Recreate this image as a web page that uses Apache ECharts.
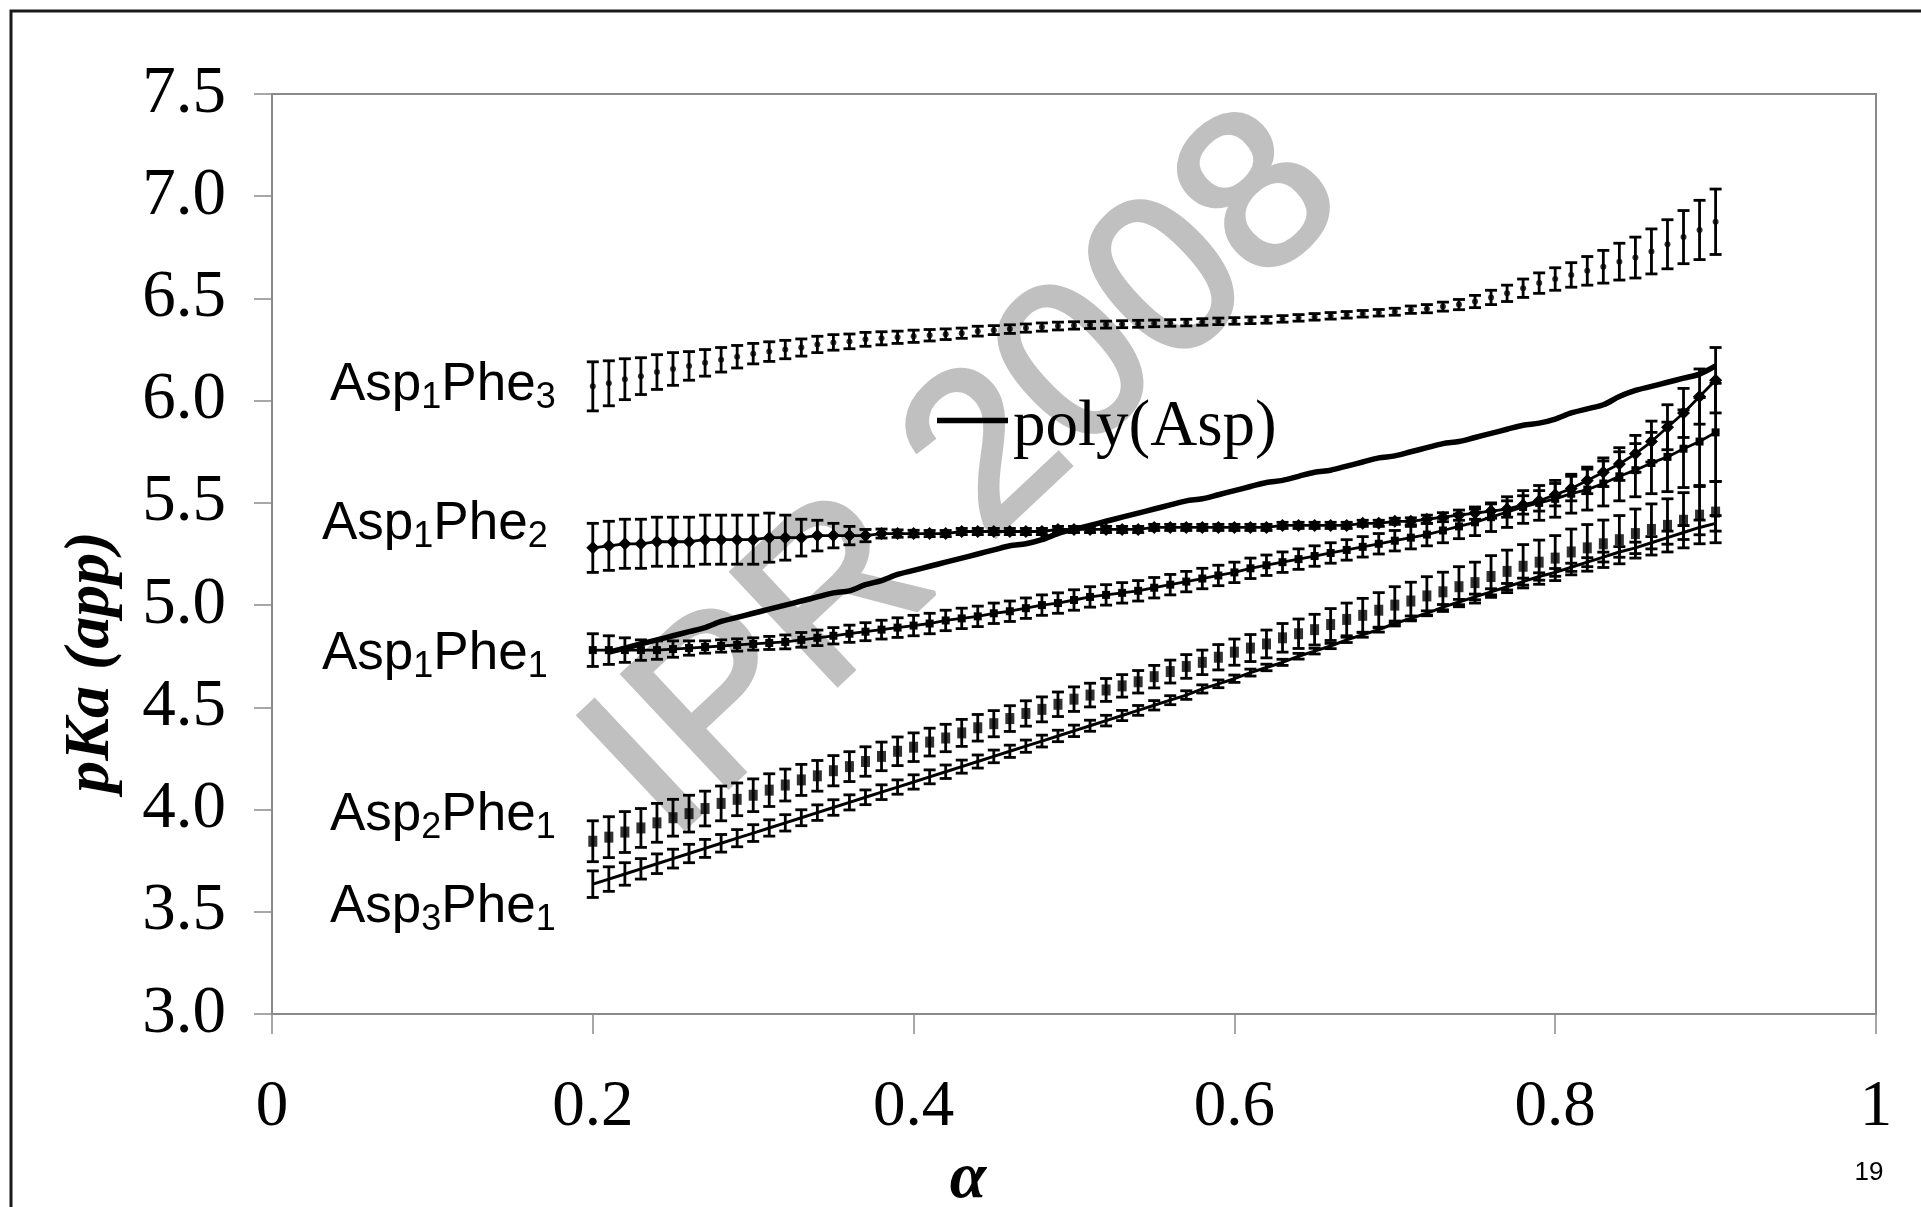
<!DOCTYPE html>
<html>
<head>
<meta charset="utf-8">
<title>pKa (app) vs α</title>
<script src="https://cdn.jsdelivr.net/npm/echarts@6/dist/echarts.min.js"></script>
<style>
  html, body { margin: 0; padding: 0; background: #ffffff; }
  #chart { width: 1921px; height: 1207px; }
</style>
</head>
<body>
<div id="chart"></div>
<script>
// Degree of ionisation α at which each apparent pKa was evaluated
const alpha = [
  0.20, 0.21, 0.22, 0.23, 0.24, 0.25, 0.26, 0.27, 0.28, 0.29,
  0.30, 0.31, 0.32, 0.33, 0.34, 0.35, 0.36, 0.37, 0.38, 0.39,
  0.40, 0.41, 0.42, 0.43, 0.44, 0.45, 0.46, 0.47, 0.48, 0.49,
  0.50, 0.51, 0.52, 0.53, 0.54, 0.55, 0.56, 0.57, 0.58, 0.59,
  0.60, 0.61, 0.62, 0.63, 0.64, 0.65, 0.66, 0.67, 0.68, 0.69,
  0.70, 0.71, 0.72, 0.73, 0.74, 0.75, 0.76, 0.77, 0.78, 0.79,
  0.80, 0.81, 0.82, 0.83, 0.84, 0.85, 0.86, 0.87, 0.88, 0.89,
  0.90
];

// poly(Asp) reference curve (α from 0.21 to 0.90)
const polyAspAlpha = alpha.slice(1);
const polyAsp = [
  4.77, 4.79, 4.81, 4.83, 4.85, 4.87, 4.89, 4.92, 4.94,
  4.96, 4.98, 5.00, 5.02, 5.04, 5.06, 5.07, 5.10, 5.12, 5.15,
  5.17, 5.19, 5.21, 5.23, 5.25, 5.27, 5.29, 5.30, 5.32, 5.35,
  5.37, 5.39, 5.41, 5.43, 5.45, 5.47, 5.49, 5.51, 5.52, 5.54,
  5.56, 5.58, 5.60, 5.61, 5.63, 5.65, 5.66, 5.68, 5.70, 5.72,
  5.73, 5.75, 5.77, 5.79, 5.80, 5.82, 5.84, 5.86, 5.88, 5.89,
  5.91, 5.94, 5.96, 5.98, 6.02, 6.05, 6.07, 6.09, 6.11, 6.13,
  6.17
];

// Asp1Phe3
const asp1phe3 = [
  6.070, 6.085, 6.105, 6.120, 6.140, 6.155, 6.170, 6.185, 6.200, 6.215,
  6.230, 6.240, 6.250, 6.260, 6.275, 6.285, 6.290, 6.300, 6.305, 6.310,
  6.315, 6.320, 6.325, 6.330, 6.340, 6.345, 6.350, 6.355, 6.360, 6.365,
  6.368, 6.370, 6.372, 6.374, 6.376, 6.378, 6.380, 6.382, 6.385, 6.388,
  6.390, 6.393, 6.395, 6.400, 6.405, 6.410, 6.415, 6.420, 6.425, 6.430,
  6.435, 6.445, 6.450, 6.460, 6.470, 6.485, 6.505, 6.525, 6.550, 6.575,
  6.595, 6.615, 6.635, 6.655, 6.680, 6.700, 6.730, 6.765, 6.800, 6.835,
  6.875
];
const asp1phe3Err = [
  0.120, 0.110, 0.100, 0.090, 0.085, 0.080, 0.070, 0.065, 0.060, 0.055,
  0.050, 0.048, 0.045, 0.042, 0.040, 0.038, 0.036, 0.034, 0.032, 0.030,
  0.030, 0.028, 0.026, 0.025, 0.024, 0.022, 0.021, 0.020, 0.020, 0.019,
  0.018, 0.017, 0.017, 0.017, 0.017, 0.016, 0.016, 0.016, 0.016, 0.016,
  0.016, 0.016, 0.016, 0.016, 0.016, 0.016, 0.016, 0.016, 0.016, 0.016,
  0.017, 0.018, 0.020, 0.022, 0.025, 0.030, 0.035, 0.040, 0.045, 0.050,
  0.055, 0.060, 0.070, 0.080, 0.090, 0.100, 0.110, 0.120, 0.130, 0.145,
  0.160
];

// Asp1Phe2
const asp1phe2 = [
  5.28, 5.29, 5.30, 5.30, 5.31, 5.31, 5.31, 5.32, 5.32, 5.32,
  5.32, 5.33, 5.33, 5.33, 5.34, 5.34, 5.34, 5.34, 5.35, 5.35,
  5.35, 5.35, 5.35, 5.36, 5.36, 5.36, 5.36, 5.36, 5.36, 5.37,
  5.37, 5.37, 5.37, 5.37, 5.37, 5.38, 5.38, 5.38, 5.38, 5.38,
  5.38, 5.38, 5.38, 5.39, 5.39, 5.39, 5.39, 5.39, 5.40, 5.40,
  5.41, 5.41, 5.42, 5.43, 5.44, 5.45, 5.46, 5.47, 5.49, 5.51,
  5.54, 5.57, 5.61, 5.65, 5.69, 5.74, 5.80, 5.87, 5.94, 6.02,
  6.10
];
const asp1phe2Err = [
  0.120, 0.120, 0.120, 0.120, 0.120, 0.120, 0.120, 0.120, 0.120, 0.120,
  0.120, 0.120, 0.110, 0.090, 0.075, 0.060, 0.045, 0.030, 0.022, 0.018,
  0.016, 0.015, 0.015, 0.015, 0.015, 0.015, 0.015, 0.015, 0.015, 0.015,
  0.015, 0.015, 0.015, 0.015, 0.015, 0.015, 0.015, 0.015, 0.015, 0.015,
  0.015, 0.015, 0.015, 0.015, 0.015, 0.015, 0.015, 0.015, 0.015, 0.015,
  0.015, 0.017, 0.020, 0.022, 0.025, 0.030, 0.035, 0.040, 0.045, 0.050,
  0.055, 0.060, 0.065, 0.070, 0.080, 0.090, 0.100, 0.110, 0.120, 0.135,
  0.160
];

// Asp1Phe1
const asp1phe1 = [
  4.780, 4.780, 4.780, 4.780, 4.780, 4.785, 4.790, 4.795, 4.800, 4.805,
  4.810, 4.815, 4.820, 4.830, 4.840, 4.850, 4.860, 4.870, 4.880, 4.890,
  4.900, 4.910, 4.925, 4.935, 4.945, 4.960, 4.970, 4.985, 5.000, 5.010,
  5.025, 5.040, 5.050, 5.060, 5.070, 5.085, 5.100, 5.115, 5.130, 5.145,
  5.160, 5.180, 5.195, 5.210, 5.225, 5.240, 5.255, 5.270, 5.285, 5.300,
  5.315, 5.330, 5.345, 5.365, 5.385, 5.405, 5.430, 5.455, 5.480, 5.500,
  5.520, 5.545, 5.565, 5.595, 5.630, 5.660, 5.695, 5.725, 5.765, 5.800,
  5.845
];
const asp1phe1Err = [
  0.080, 0.070, 0.060, 0.050, 0.045, 0.040, 0.035, 0.030, 0.030, 0.030,
  0.030, 0.032, 0.034, 0.036, 0.038, 0.040, 0.042, 0.044, 0.046, 0.048,
  0.050, 0.050, 0.050, 0.050, 0.050, 0.050, 0.050, 0.050, 0.050, 0.050,
  0.050, 0.050, 0.050, 0.050, 0.050, 0.050, 0.050, 0.050, 0.050, 0.050,
  0.050, 0.050, 0.050, 0.050, 0.050, 0.050, 0.050, 0.050, 0.050, 0.050,
  0.050, 0.055, 0.055, 0.060, 0.060, 0.065, 0.070, 0.075, 0.080, 0.085,
  0.090, 0.095, 0.100, 0.110, 0.120, 0.130, 0.150, 0.170, 0.190, 0.215,
  0.240
];

// Asp2Phe1
const asp2phe1 = [
  3.845, 3.865, 3.890, 3.910, 3.935, 3.960, 3.980, 4.005, 4.030, 4.050,
  4.070, 4.095, 4.120, 4.145, 4.165, 4.190, 4.210, 4.235, 4.260, 4.285,
  4.305, 4.330, 4.350, 4.375, 4.400, 4.420, 4.445, 4.470, 4.490, 4.515,
  4.540, 4.560, 4.585, 4.605, 4.625, 4.650, 4.675, 4.700, 4.720, 4.745,
  4.770, 4.790, 4.810, 4.840, 4.860, 4.880, 4.905, 4.930, 4.950, 4.975,
  5.000, 5.020, 5.045, 5.065, 5.090, 5.110, 5.140, 5.165, 5.190, 5.210,
  5.230, 5.260, 5.280, 5.300, 5.320, 5.350, 5.370, 5.390, 5.415, 5.440,
  5.455
];
const asp2phe1Err = [
  0.100, 0.100, 0.100, 0.095, 0.095, 0.090, 0.090, 0.085, 0.085, 0.080,
  0.080, 0.080, 0.078, 0.076, 0.075, 0.074, 0.073, 0.072, 0.070, 0.070,
  0.070, 0.068, 0.067, 0.066, 0.065, 0.064, 0.063, 0.062, 0.061, 0.060,
  0.060, 0.058, 0.056, 0.055, 0.055, 0.055, 0.056, 0.058, 0.060, 0.062,
  0.064, 0.066, 0.068, 0.070, 0.072, 0.075, 0.078, 0.080, 0.083, 0.086,
  0.090, 0.092, 0.094, 0.096, 0.098, 0.100, 0.102, 0.104, 0.106, 0.108,
  0.110, 0.112, 0.114, 0.116, 0.118, 0.120, 0.125, 0.130, 0.135, 0.140,
  0.150
];

// Asp3Phe1
const asp3phe1 = [
  3.635, 3.660, 3.685, 3.710, 3.735, 3.760, 3.785, 3.810, 3.835, 3.860,
  3.885, 3.910, 3.935, 3.960, 3.985, 4.010, 4.035, 4.060, 4.085, 4.110,
  4.135, 4.160, 4.185, 4.210, 4.235, 4.260, 4.285, 4.310, 4.335, 4.360,
  4.385, 4.410, 4.435, 4.460, 4.485, 4.510, 4.535, 4.560, 4.590, 4.615,
  4.640, 4.670, 4.695, 4.720, 4.750, 4.775, 4.800, 4.830, 4.855, 4.880,
  4.910, 4.935, 4.960, 4.990, 5.015, 5.040, 5.065, 5.090, 5.115, 5.140,
  5.160, 5.185, 5.210, 5.235, 5.260, 5.280, 5.305, 5.330, 5.355, 5.380,
  5.400
];
const asp3phe1Err = [
  0.065, 0.060, 0.055, 0.050, 0.048, 0.046, 0.045, 0.044, 0.043, 0.042,
  0.041, 0.040, 0.040, 0.039, 0.038, 0.038, 0.037, 0.036, 0.036, 0.035,
  0.035, 0.034, 0.033, 0.032, 0.032, 0.031, 0.030, 0.030, 0.029, 0.028,
  0.028, 0.027, 0.026, 0.025, 0.024, 0.023, 0.022, 0.021, 0.020, 0.019,
  0.018, 0.017, 0.016, 0.015, 0.014, 0.014, 0.013, 0.013, 0.012, 0.012,
  0.012, 0.012, 0.012, 0.013, 0.013, 0.014, 0.015, 0.016, 0.017, 0.018,
  0.019, 0.020, 0.022, 0.024, 0.026, 0.028, 0.030, 0.032, 0.034, 0.036,
  0.038
];

// Axis ticks
const xTicks = [0, 0.2, 0.4, 0.6, 0.8, 1];
const yTicks = [3.0, 3.5, 4.0, 4.5, 5.0, 5.5, 6.0, 6.5, 7.0, 7.5];

// Text labels placed beside the start of each curve
const peptideNames = [
  { main1: 'Asp', sub1: '1', main2: 'Phe', sub2: '3' },
  { main1: 'Asp', sub1: '1', main2: 'Phe', sub2: '2' },
  { main1: 'Asp', sub1: '1', main2: 'Phe', sub2: '1' },
  { main1: 'Asp', sub1: '2', main2: 'Phe', sub2: '1' },
  { main1: 'Asp', sub1: '3', main2: 'Phe', sub2: '1' }
];
// left edge and text baseline of each of those labels, in px
const peptideLabelPos = [
  [330, 403], [322, 542], [322, 672], [330, 833], [330, 925]
];

const SERIF = '"Liberation Serif", "Times New Roman", Times, serif';
const SANS = '"Liberation Sans", Arial, Helvetica, sans-serif';

function pairs(xs, ys) {
  return ys.map((v, i) => [xs[i], v]);
}
function bars(xs, ys, es) {
  return ys.map((v, i) => [xs[i], +(v - es[i]).toFixed(4), +(v + es[i]).toFixed(4)]);
}

// vertical error bar with horizontal caps
function renderErrorBar(params, api) {
  const x = api.value(0);
  const lo = api.coord([x, api.value(1)]);
  const hi = api.coord([x, api.value(2)]);
  const hw = 6;
  const st = { stroke: '#000', lineWidth: 2.8 };
  return {
    type: 'group',
    children: [
      { type: 'line', shape: { x1: lo[0], y1: lo[1], x2: hi[0], y2: hi[1] }, style: st },
      { type: 'line', shape: { x1: lo[0] - hw, y1: lo[1], x2: lo[0] + hw, y2: lo[1] }, style: st },
      { type: 'line', shape: { x1: hi[0] - hw, y1: hi[1], x2: hi[0] + hw, y2: hi[1] }, style: st }
    ]
  };
}
function errorSeries(name, data) {
  return {
    name: name,
    type: 'custom',
    renderItem: renderErrorBar,
    data: data,
    encode: { x: 0, y: [1, 2] },
    z: 3,
    silent: true,
    clip: false
  };
}

const chart = echarts.init(document.getElementById('chart'), null, { renderer: 'canvas' });

const labelGraphics = peptideNames.map((p, i) => {
  const pos = peptideLabelPos[i];
  return {
    type: 'text',
    x: pos[0],
    y: pos[1] - 48.5,
    z: 10,
    style: {
      text: '{m|' + p.main1 + '}{s|' + p.sub1 + '}{m|' + p.main2 + '}{s|' + p.sub2 + '}',
      align: 'left',
      verticalAlign: 'top',
      rich: {
        m: { fontFamily: SANS, fontSize: 53, lineHeight: 62, fill: '#000', verticalAlign: 'middle' },
        s: { fontFamily: SANS, fontSize: 36, lineHeight: 24, fill: '#000', verticalAlign: 'bottom' }
      }
    }
  };
});

const option = {
  animation: false,
  backgroundColor: '#ffffff',
  grid: {
    left: 272, right: 45, top: 94, bottom: 193,
    show: true, borderColor: '#8a8a8a', borderWidth: 2,
    containLabel: false
  },
  legend: {
    data: ['poly(Asp)'],
    left: 937,
    top: 381,
    padding: 0,
    icon: 'rect',
    itemWidth: 71,
    itemHeight: 5.5,
    selectedMode: false,
    formatter: name => '{t|' + name + '}',
    textStyle: {
      fontFamily: SERIF, fontSize: 65, color: '#000',
      rich: {
        t: { fontFamily: SERIF, fontSize: 65, lineHeight: 65, color: '#000', padding: [14, 0, 0, 0] }
      }
    }
  },
  xAxis: {
    type: 'value',
    min: 0, max: 1, interval: 0.2,
    axisLine: { show: true, onZero: false, lineStyle: { color: '#8a8a8a', width: 2 } },
    axisTick: { show: true, inside: false, length: 20, lineStyle: { color: '#8a8a8a', width: 1.5 } },
    splitLine: { show: false },
    axisLabel: {
      margin: 61,
      fontFamily: SERIF, fontSize: 65, color: '#000',
      formatter: v => {
        const t = xTicks.find(k => Math.abs(k - v) < 1e-9);
        return t === undefined ? '' : String(t);
      }
    }
  },
  yAxis: {
    type: 'value',
    min: 3, max: 7.5, interval: 0.5,
    axisLine: { show: true, lineStyle: { color: '#8a8a8a', width: 2 } },
    axisTick: { show: true, inside: false, length: 18, lineStyle: { color: '#8a8a8a', width: 1.5 } },
    splitLine: { show: false },
    axisLabel: {
      margin: 46,
      fontFamily: SERIF, fontSize: 67, color: '#000',
      formatter: v => {
        const t = yTicks.find(k => Math.abs(k - v) < 1e-9);
        return t === undefined ? '' : t.toFixed(1);
      }
    }
  },
  graphic: [
    // slide frame
    {
      type: 'rect', z: 0, silent: true,
      shape: { x: 11, y: 11, width: 2200, height: 2200 },
      style: { fill: 'none', stroke: '#1a1a1a', lineWidth: 3 }
    },
    // watermark
    {
      type: 'text', z: 0, silent: true,
      x: 968, y: 477, rotation: 43.2 * Math.PI / 180,
      style: {
        text: 'IPR 2008', fontFamily: SANS, fontSize: 224,
        fill: '#c0c0c0', stroke: '#c0c0c0', lineWidth: 5,
        align: 'center', verticalAlign: 'middle'
      }
    },
    // y axis title
    {
      type: 'text', z: 10,
      x: 91, y: 662, rotation: Math.PI / 2,
      style: {
        text: 'pKa (app)', fontFamily: SERIF, fontSize: 64, fontWeight: 'bold', fontStyle: 'italic',
        fill: '#000', align: 'center', verticalAlign: 'middle'
      }
    },
    // x axis title
    {
      type: 'text', z: 10,
      x: 968, y: 1180,
      style: {
        text: 'α', fontFamily: SERIF, fontSize: 66, fontWeight: 'bold', fontStyle: 'italic',
        fill: '#000', align: 'center', verticalAlign: 'middle'
      }
    },
    // slide number
    {
      type: 'text', z: 10,
      x: 1869, y: 1173,
      style: {
        text: '19', fontFamily: SANS, fontSize: 26,
        fill: '#000', align: 'center', verticalAlign: 'middle'
      }
    }
  ].concat(labelGraphics),
  series: [
    errorSeries('Asp1Phe3 err', bars(alpha, asp1phe3, asp1phe3Err)),
    errorSeries('Asp1Phe2 err', bars(alpha, asp1phe2, asp1phe2Err)),
    errorSeries('Asp1Phe1 err', bars(alpha, asp1phe1, asp1phe1Err)),
    errorSeries('Asp2Phe1 err', bars(alpha, asp2phe1, asp2phe1Err)),
    errorSeries('Asp3Phe1 err', bars(alpha, asp3phe1, asp3phe1Err)),
    {
      name: 'Asp1Phe3',
      type: 'scatter',
      data: pairs(alpha, asp1phe3),
      symbol: 'circle', symbolSize: 6,
      itemStyle: { color: '#000' },
      z: 4, silent: true
    },
    {
      name: 'Asp1Phe2',
      type: 'line',
      data: pairs(alpha, asp1phe2),
      symbol: 'diamond', symbolSize: 13, showSymbol: true,
      lineStyle: { color: '#000', width: 2.8 },
      itemStyle: { color: '#000' },
      z: 4, silent: true
    },
    {
      name: 'Asp1Phe1',
      type: 'line',
      data: pairs(alpha, asp1phe1),
      symbol: 'rect', symbolSize: 8, showSymbol: true,
      lineStyle: { color: '#000', width: 2.8 },
      itemStyle: { color: '#000' },
      z: 4, silent: true
    },
    {
      name: 'Asp2Phe1',
      type: 'scatter',
      data: pairs(alpha, asp2phe1),
      symbol: 'rect', symbolSize: [9, 11],
      itemStyle: { color: '#000' },
      z: 4, silent: true
    },
    {
      name: 'Asp3Phe1',
      type: 'line',
      data: pairs(alpha, asp3phe1),
      symbol: 'none',
      lineStyle: { color: '#000', width: 3 },
      z: 4, silent: true
    },
    {
      name: 'poly(Asp)',
      type: 'line',
      data: pairs(polyAspAlpha, polyAsp),
      symbol: 'none',
      smooth: 0.3,
      lineStyle: { color: '#000', width: 5.5 },
      itemStyle: { color: '#000' },
      z: 5, silent: true
    }
  ]
};

chart.setOption(option);
</script>
</body>
</html>
